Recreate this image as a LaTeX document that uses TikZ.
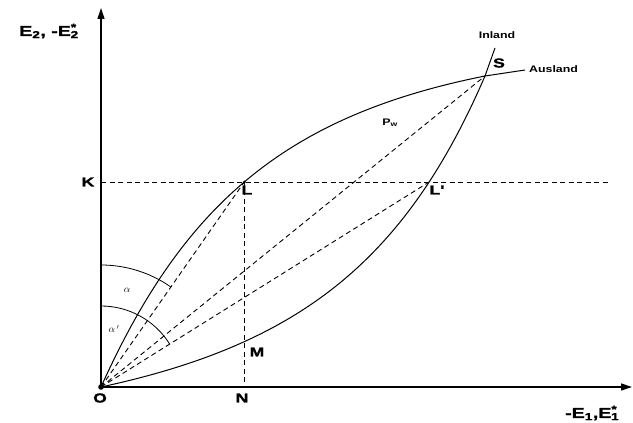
\documentclass[tikz,border=0pt]{standalone}
\usepackage{fontspec}
\newfontfamily\labfont{Liberation Sans}[FakeStretch=1.3]
\newfontfamily\heavyfont{Liberation Sans}[FakeStretch=1.35,FakeBold=1.6]
\usetikzlibrary{arrows.meta,intersections,calc}
\begin{document}
\begin{tikzpicture}[x=1pt,y=1pt,
  axis/.style={line width=1.3pt,-{Triangle[length=11pt,width=7pt]}},
  curve/.style={line width=1pt},
  dash line/.style={line width=0.9pt,dash pattern=on 5pt off 3.5pt},
  big/.style={font=\heavyfont\bfseries\fontsize{13}{13}\selectfont, inner sep=0pt},
  huge lab/.style={font=\heavyfont\bfseries\fontsize{14.5}{14.5}\selectfont, inner sep=0pt},
  small/.style={font=\labfont\bfseries\fontsize{9.5}{9.5}\selectfont, inner sep=0pt},
  greek/.style={font=\fontsize{10}{10}\selectfont, inner sep=0pt},
  angle arc/.style={line width=0.8pt}]
\useasboundingbox (0,0) rectangle (633,423);
\coordinate (O) at (101,36);
\coordinate (S) at (485,347);
\coordinate (ytip) at (101,415);
\coordinate (xtip) at (632,36);
\coordinate (Kp) at (101,241);
\coordinate (Kend) at (610,241);
\coordinate (Aend) at (525,353);
\coordinate (Iend) at (495,375);

\draw[axis] (O) -- (ytip);
\draw[axis] (O) -- (xtip);
\draw[curve, name path=aus] (O) .. controls (183,218) and (285,307) .. (S) -- (Aend);
\draw[curve, name path=inl] (O) .. controls (296,78) and (404,159) .. (S) -- (Iend);
\path[name path=kline] (Kp) -- (Kend);
\path[name intersections={of=aus and kline, by=L}];
\path[name intersections={of=inl and kline, by=Lp}];
\coordinate (N) at (L |- O);
\path[name path=vline] (L) -- (N);
\path[name intersections={of=inl and vline, by=M}];

\draw[dash line] (Kp) -- (Kend);
\draw[dash line] (L) -- (N);
\draw[dash line] (O) -- (L);
\draw[dash line] (O) -- (S);
\draw[dash line] (O) -- (Lp);

\draw[angle arc] let \p1=($(L)-(O)$), \n1={atan2(\y1,\x1)} in
  ($(O)+(0,122)$) arc[start angle=90, end angle=\n1, radius=122];
\draw[angle arc] let \p1=($(Lp)-(O)$), \n1={atan2(\y1,\x1)} in
  ($(O)+(0,81)$) arc[start angle=90, end angle=\n1, radius=81];

\fill (O) circle (2.8pt);
\fill (L) circle (1.5pt);

\node[huge lab] (ylab) at (49,392) {E\textsubscript{2}, -E\textsuperscript{*}\kern-0.42em\textsubscript{2}};
\node[huge lab, anchor=west] (xlab) at (565,10) {-E\textsubscript{1},E\textsuperscript{*}\kern-0.42em\textsubscript{1}};
\node[big] (Klab) at (88,241) {K};
\node[big] (Llab) at (247,233) {L};
\node[big] (Lplab) at (437,233) {L'};
\node[big] (Mlab) at (257,71) {M};
\node[big] (Nlab) at (242,25) {N};
\node[big] (Olab) at (100,25) {O};
\node[big] (Slab) at (499,360) {S};
\node[small] (inl) at (497,388) {Inland};
\node[small, anchor=west] (aus) at (529,354) {Ausland};
\node[small] (pw) at (390,300) {P\textsubscript{w}};
\node[greek] (al) at (127,133) {$\alpha$};
\node[greek] (alp) at (114,94) {$\alpha\,'$};
\end{tikzpicture}
\end{document}
